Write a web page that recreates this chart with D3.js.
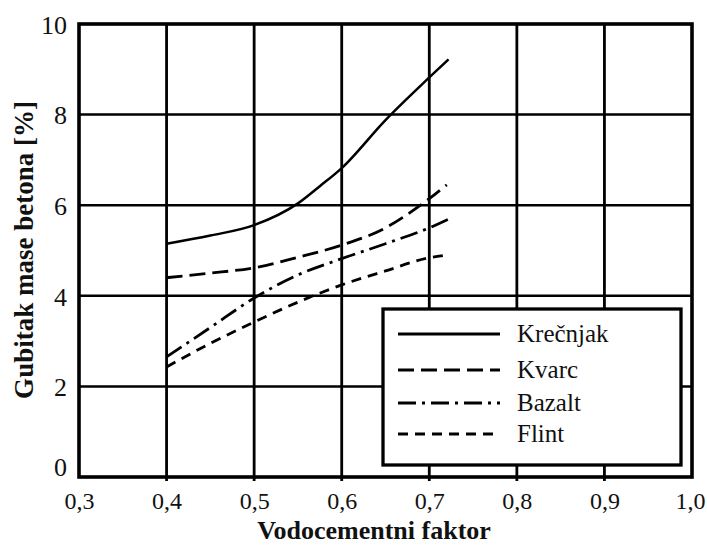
<!DOCTYPE html>
<html>
<head>
<meta charset="utf-8">
<script src="https://cdn.jsdelivr.net/npm/d3@7"></script>
</head>
<body style="margin:0;background:#fff">
<script>
// ---- data ----
const xTicks = [0.3, 0.4, 0.5, 0.6, 0.7, 0.8, 0.9, 1.0];
const xTickLabels = ["0,3", "0,4", "0,5", "0,6", "0,7", "0,8", "0,9", "1,0"];
const yTicks = [0, 2, 4, 6, 8, 10];

const krecnjakX = [0.40, 0.45, 0.50, 0.55, 0.575, 0.60, 0.65, 0.70, 0.722];
const krecnjakY = [5.15, 5.33, 5.56, 6.04, 6.42, 6.82, 7.88, 8.82, 9.22];

const kvarcX = [0.40, 0.45, 0.50, 0.55, 0.60, 0.65, 0.69, 0.72];
const kvarcY = [4.40, 4.50, 4.62, 4.85, 5.12, 5.50, 6.00, 6.45];

const bazaltX = [0.40, 0.45, 0.50, 0.55, 0.60, 0.65, 0.70, 0.725];
const bazaltY = [2.65, 3.30, 3.95, 4.46, 4.82, 5.15, 5.50, 5.72];

const flintX = [0.40, 0.45, 0.50, 0.55, 0.60, 0.65, 0.70, 0.72];
const flintY = [2.43, 2.95, 3.42, 3.86, 4.24, 4.55, 4.84, 4.90];

const seriesNames = ["Krečnjak", "Kvarc", "Bazalt", "Flint"];
const seriesDash = [null, "16,7", "18,6,3,6", "10,7"];

const xTitle = "Vodocementni faktor";
const yTitle = "Gubitak mase betona [%]";

// ---- chart ----
const W = 707, H = 545;
const FONT = "'Liberation Serif', 'Times New Roman', serif";
const svg = d3.select("body").append("svg").attr("width", W).attr("height", H)
  .style("display", "block");

const x = d3.scaleLinear().domain([0.3, 1.0]).range([79, 692]);
const y = d3.scaleLinear().domain([0, 10]).range([477, 24]);

// gridlines
const grid = svg.append("g");
grid.selectAll("line.v").data(xTicks.filter(d => d > 0.3 && d < 1.0)).enter()
  .append("line")
  .attr("x1", d => x(d)).attr("x2", d => x(d))
  .attr("y1", y(10)).attr("y2", y(0) + 4)
  .attr("stroke", "#000").attr("stroke-width", 2.8);
grid.selectAll("line.h").data(yTicks.filter(d => d > 0 && d < 10)).enter()
  .append("line")
  .attr("x1", x(0.3)).attr("x2", x(1.0))
  .attr("y1", d => y(d)).attr("y2", d => y(d))
  .attr("stroke", "#000").attr("stroke-width", 2.5);

// series
const allSeries = [
  krecnjakX.map((v, i) => [v, krecnjakY[i]]),
  kvarcX.map((v, i) => [v, kvarcY[i]]),
  bazaltX.map((v, i) => [v, bazaltY[i]]),
  flintX.map((v, i) => [v, flintY[i]])
];
const line = d3.line().x(d => x(d[0])).y(d => y(d[1])).curve(d3.curveMonotoneX);
allSeries.forEach((s, i) => {
  svg.append("path")
    .attr("d", line(s))
    .attr("fill", "none")
    .attr("stroke", "#000")
    .attr("stroke-width", i === 0 ? 2.5 : 2.8)
    .attr("stroke-dasharray", seriesDash[i]);
});

// legend
const lg = svg.append("g");
lg.append("rect")
  .attr("x", 383).attr("y", 309).attr("width", 298).attr("height", 156)
  .attr("fill", "#fff").attr("stroke", "#000").attr("stroke-width", 3.3);
const legY = [334, 370, 403, 434];
seriesNames.forEach((n, i) => {
  lg.append("line")
    .attr("x1", 398).attr("x2", 500)
    .attr("y1", legY[i]).attr("y2", legY[i])
    .attr("stroke", "#000").attr("stroke-width", 3)
    .attr("stroke-dasharray", seriesDash[i]);
  lg.append("text")
    .attr("x", 517).attr("y", legY[i] + 8)
    .style("font-family", FONT)
    .style("font-size", "25px")
    .style("fill", "#111")
    .text(n);
});

// frame
svg.append("rect")
  .attr("x", x(0.3)).attr("y", y(10))
  .attr("width", x(1.0) - x(0.3)).attr("height", y(0) - y(10))
  .attr("fill", "none").attr("stroke", "#000").attr("stroke-width", 3.6);

// axes
const xAxis = d3.axisBottom(x).tickValues(xTicks).tickSize(0).tickPadding(0)
  .tickFormat((d, i) => xTickLabels[i]);
const gx = svg.append("g").attr("transform", `translate(0,${y(0)})`).call(xAxis);
gx.select(".domain").remove();
gx.selectAll("text")
  .style("font-family", FONT)
  .style("font-size", "24px")
  .style("fill", "#111")
  .attr("dy", null)
  .attr("dx", d => d === 1.0 ? -2 : 0)
  .attr("y", 32);

const yAxis = d3.axisLeft(y).tickValues(yTicks).tickSize(0).tickPadding(12);
const gy = svg.append("g").attr("transform", `translate(${x(0.3)},0)`).call(yAxis);
gy.select(".domain").remove();
gy.selectAll("text")
  .style("font-family", FONT)
  .style("font-size", "26px")
  .style("fill", "#111")
  .attr("dy", d => d === 0 ? "-0.05em" : "0.36em");

// titles
svg.append("text")
  .attr("x", 374).attr("y", 539)
  .attr("text-anchor", "middle")
  .style("font-family", FONT)
  .style("font-size", "26px").style("font-weight", "bold")
  .style("fill", "#111")
  .text(xTitle);
svg.append("text")
  .attr("transform", "translate(33,250) rotate(-90)")
  .attr("text-anchor", "middle")
  .style("font-family", FONT)
  .style("font-size", "27px").style("font-weight", "bold")
  .style("fill", "#111")
  .text(yTitle);
</script>
</body>
</html>
